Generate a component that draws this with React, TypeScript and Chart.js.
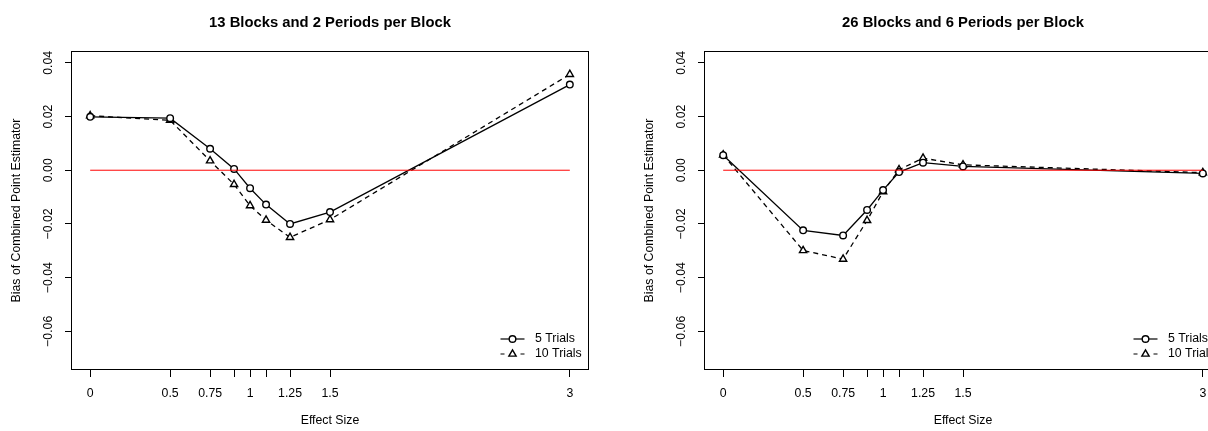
import React, { useEffect, useRef } from 'react';
import { Chart, registerables } from 'chart.js';

Chart.register(...registerables);

// ---------- data ----------
const effectSizes = [0, 0.5, 0.75, 0.9, 1, 1.1, 1.25, 1.5, 3];
const xTickLabels = ['0', '0.5', '0.75', '', '1', '', '1.25', '1.5', '3'];
const yTicks = [-0.06, -0.04, -0.02, 0, 0.02, 0.04];
const yTickLabels = ['\u22120.06', '\u22120.04', '\u22120.02', '0.00', '0.02', '0.04'];

const seriesNames = ['5 Trials', '10 Trials'];
const panelTitles = ['13 Blocks and 2 Periods per Block', '26 Blocks and 6 Periods per Block'];

const left5Trials = [0.0199, 0.0194, 0.008, 0.0005, -0.0067, -0.0128, -0.02, -0.0156, 0.0319];
const left10Trials = [0.0203, 0.0186, 0.0035, -0.0053, -0.0132, -0.0186, -0.025, -0.0184, 0.0357];
const right5Trials = [0.0056, -0.0224, -0.0243, -0.0148, -0.0074, -0.0007, 0.0028, 0.0014, -0.0012];
const right10Trials = [0.0057, -0.0299, -0.0331, -0.0187, -0.008, 0.0002, 0.0045, 0.002, -0.0009];

const zeroLineX = [0, 3];
const xRange = [-0.12, 3.12];
const yRange = [-0.0744, 0.0444];

const FONT = "'Liberation Sans', Arial, Helvetica, sans-serif";
const FS = 12.3;

const decorPlugin = {
  id: 'decor',
  afterDraw(chart: any, _args: any, opts: any) {
    const { ctx, chartArea: ca } = chart;
    ctx.save();
    // box
    ctx.strokeStyle = '#000';
    ctx.lineWidth = 1;
    ctx.setLineDash([]);
    ctx.strokeRect(Math.round(ca.left) + 0.5, Math.round(ca.top) + 0.5, Math.round(ca.right - ca.left) - 1, Math.round(ca.bottom - ca.top) - 1);
    // title
    ctx.fillStyle = '#000';
    ctx.font = `bold 14.8px ${FONT}`;
    ctx.textAlign = 'center';
    ctx.textBaseline = 'alphabetic';
    ctx.fillText(opts.title, (ca.left + ca.right) / 2, 26.5);
    // legend
    ctx.font = `${FS}px ${FONT}`;
    ctx.textAlign = 'left';
    ctx.textBaseline = 'middle';
    const cx = ca.right - 76.5;
    for (let i = 0; i < 2; i++) {
      const ds = chart.data.datasets[i + 1];
      const y = ca.bottom - 31 + i * 15;
      ctx.strokeStyle = '#000';
      ctx.lineWidth = 1.2;
      ctx.beginPath();
      if (i === 0) {
        ctx.moveTo(cx - 12, y);
        ctx.lineTo(cx + 12, y);
      } else {
        ctx.moveTo(cx - 12, y);
        ctx.lineTo(cx - 8, y);
        ctx.moveTo(cx + 8, y);
        ctx.lineTo(cx + 12, y);
      }
      ctx.stroke();
      ctx.fillStyle = '#fff';
      ctx.lineWidth = 1.4;
      ctx.beginPath();
      if (ds.pointStyle === 'circle') {
        ctx.arc(cx, y, ds.pointRadius, 0, Math.PI * 2);
      } else {
        const r = ds.pointRadius;
        for (let k = 0; k < 3; k++) {
          const a = (k * 2 * Math.PI) / 3;
          const px = cx + Math.sin(a) * r;
          const py = y - Math.cos(a) * r;
          if (k === 0) ctx.moveTo(px, py);
          else ctx.lineTo(px, py);
        }
        ctx.closePath();
      }
      ctx.fill();
      ctx.stroke();
      ctx.fillStyle = '#000';
      ctx.fillText(ds.label, ca.right - 54, y);
    }
    ctx.restore();
  },
};

function Panel({ title, s5, s10, left }: { title: string; s5: number[]; s10: number[]; left: number }) {
  const ref = useRef<HTMLCanvasElement>(null);
  useEffect(() => {
    if (!ref.current) return;
    const chart = new Chart(ref.current, {
      type: 'line',
      data: {
        datasets: [
          {
            label: 'zero',
            data: zeroLineX.map((x) => ({ x, y: 0 })),
            borderColor: '#ff0000',
            borderWidth: 1,
            pointRadius: 0,
            order: 0,
          },
          {
            label: seriesNames[0],
            data: effectSizes.map((x, i) => ({ x, y: s5[i] })),
            borderColor: '#000',
            borderWidth: 1.3,
            pointStyle: 'circle',
            pointRadius: 3.3,
            pointBorderWidth: 1.4,
            pointBackgroundColor: '#fff',
            pointBorderColor: '#000',
            order: 1,
          },
          {
            label: seriesNames[1],
            data: effectSizes.map((x, i) => ({ x, y: s10[i] })),
            borderColor: '#000',
            borderWidth: 1.3,
            borderDash: [5, 4],
            pointStyle: 'triangle',
            pointRadius: 4.2,
            pointBorderWidth: 1.4,
            pointBackgroundColor: '#fff',
            pointBorderColor: '#000',
            order: 2,
          },
        ] as any,
      },
      options: {
        animation: false,
        responsive: false,
        devicePixelRatio: 1,
        layout: { padding: { top: 51, right: 44, bottom: 0, left: 0 } },
        plugins: {
          legend: { display: false },
          title: { display: false },
          tooltip: { enabled: false },
          decor: { title },
        } as any,
        scales: {
          x: {
            type: 'linear',
            min: xRange[0],
            max: xRange[1],
            afterBuildTicks: (s: any) => {
              s.ticks = effectSizes.map((v) => ({ value: v }));
            },
            afterFit: (s: any) => {
              s.height = 61;
            },
            ticks: {
              autoSkip: false,
              minRotation: 0,
              maxRotation: 0,
              padding: 8.9,
              color: '#000',
              font: { size: FS, family: FONT },
              callback: (v: any) => xTickLabels[effectSizes.indexOf(v)],
            },
            grid: { drawOnChartArea: false, drawTicks: true, tickLength: 7, color: '#000', tickColor: '#000' },
            border: { display: false },
            title: {
              display: true,
              text: 'Effect Size',
              color: '#000',
              font: { size: FS, family: FONT },
              padding: { top: 0, bottom: 2.6 },
            },
          },
          y: {
            type: 'linear',
            min: yRange[0],
            max: yRange[1],
            afterBuildTicks: (s: any) => {
              s.ticks = yTicks.map((v) => ({ value: v }));
            },
            afterFit: (s: any) => {
              s.width = 71;
            },
            ticks: {
              minRotation: 90,
              maxRotation: 90,
              crossAlign: 'center',
              padding: 1,
              color: '#000',
              font: { size: FS, family: FONT },
              callback: (v: any) => yTickLabels[yTicks.indexOf(v)],
            },
            grid: { drawOnChartArea: false, drawTicks: true, tickLength: 6, color: '#000', tickColor: '#000' },
            border: { display: false },
            title: {
              display: true,
              text: 'Bias of Combined Point Estimator',
              color: '#000',
              font: { size: FS, family: FONT },
              padding: { top: 9.6, bottom: 0 },
            },
          },
        } as any,
      },
      plugins: [decorPlugin],
    });
    return () => chart.destroy();
  }, [title, s5, s10]);
  return (
    <canvas
      ref={ref}
      width={633}
      height={431}
      style={{ position: 'absolute', left, top: 0, width: 633, height: 431 }}
    />
  );
}

export default function App() {
  return (
    <div
      style={{
        position: 'fixed',
        left: 0,
        top: 0,
        width: 1208,
        height: 431,
        overflow: 'hidden',
        background: '#fff',
      }}
    >
      <Panel title={panelTitles[0]} s5={left5Trials} s10={left10Trials} left={0} />
      <Panel title={panelTitles[1]} s5={right5Trials} s10={right10Trials} left={633} />
    </div>
  );
}
